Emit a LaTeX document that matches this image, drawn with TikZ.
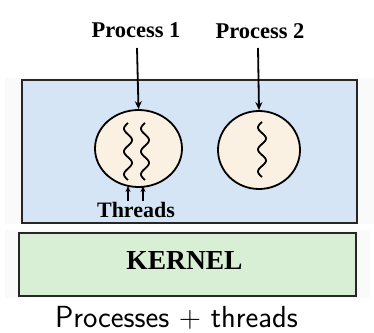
\documentclass[tikz,border=0pt]{standalone}
\usepackage{fontspec}
\setmainfont{Liberation Serif}
\setsansfont{Latin Modern Sans}
\usetikzlibrary{shapes.geometric,arrows.meta}
\definecolor{procblue}{HTML}{D5E5F5}
\definecolor{kerngreen}{HTML}{D8EFD6}
\definecolor{proccream}{HTML}{FBF1E2}
\tikzset{
  lbl/.style={font=\bfseries\fontsize{22.5}{25}\selectfont, inner sep=0pt, anchor=base},
  box/.style={draw=black!85, line width=1.8pt},
  proc/.style={ellipse, draw=black, line width=1.8pt, fill=proccream, inner sep=0pt},
  arr/.style={-{Stealth[length=8pt,width=7pt]}, line width=1.8pt},
  smallarr/.style={-{Stealth[length=6pt,width=5pt]}, line width=1.5pt},
  wave/.style={line width=1.8pt}
}
\begin{document}
\begin{tikzpicture}[x=1pt,y=-1pt]
\useasboundingbox (0,0) rectangle (374,332);
% faint backgrounds
\fill[black!2] (5,78) rectangle (374,224);
\fill[black!2] (5,230) rectangle (370,298);
% user box
\node[box, fill=procblue, minimum width=335pt, minimum height=143pt, anchor=north west, inner sep=0pt] (user) at (21,79) {};
% kernel box
\node[box, fill=kerngreen, minimum width=337pt, minimum height=63pt, anchor=north west, inner sep=0pt] (kernel) at (18,232) {};
\node[lbl, font=\bfseries\fontsize{27.5}{30}\selectfont] (ktext) at (184.5,269) {KERNEL};
% processes
\node[proc, minimum width=87pt, minimum height=77pt] (c1) at (138.5,148.5) {};
\node[proc, minimum width=82pt, minimum height=78pt] (c2) at (259,150) {};
% labels
\node[lbl] (p1) at (136,37) {Process 1};
\node[lbl] (p2) at (260,38) {Process 2};
\draw[arr] (137,48) -- (c1.north);
\draw[arr] (258,48) -- (c2.north);
% threads
\draw[wave] plot[domain=0:1, samples=50] ({128 - 4*sin(900*\x)}, {123 + 57*\x});
\draw[wave] plot[domain=0:1, samples=50] ({145 - 4*sin(900*\x)}, {123 + 57*\x});
\draw[wave] plot[domain=0:1, samples=50] ({262 - 4*sin(900*\x)}, {122 + 55*\x});
\node[lbl, font=\bfseries\fontsize{22}{25}\selectfont] (thr) at (136,217) {Threads};
\coordinate (t1) at (128,186);
\coordinate (t2) at (143,186);
\draw[smallarr] (128,201) -- (t1);
\draw[smallarr] (143,201) -- (t2);
% caption
\node[font=\sffamily\fontsize{30.5}{34}\selectfont, inner sep=0pt, anchor=base] (cap) at (176.5,327) {Processes + threads};
\end{tikzpicture}
\end{document}
